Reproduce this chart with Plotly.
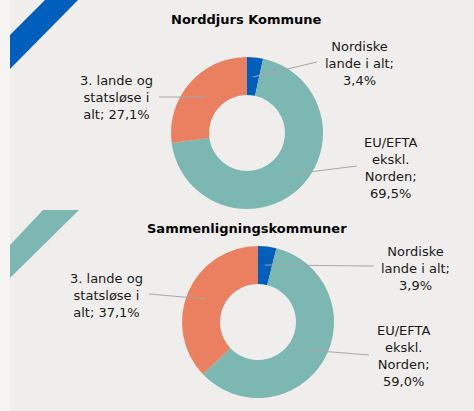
import plotly.graph_objects as go

W, H = 474, 411

categories = ["Nordiske lande i alt", "EU/EFTA ekskl. Norden", "3. lande og statsløse i alt"]
norddjurs_values = [3.4, 69.5, 27.1]
sammen_values = [3.9, 59.0, 37.1]
titles = ["Norddjurs Kommune", "Sammenligningskommuner"]
colors = ["#005EBD", "#7DB7B1", "#EA805F"]

label_lines = {
    "Nordiske lande i alt": ["Nordiske", "lande i alt;"],
    "EU/EFTA ekskl. Norden": ["EU/EFTA", "ekskl.", "Norden;"],
    "3. lande og statsløse i alt": ["3. lande og", "statsløse i", "alt;"],
}

def fmt(v):
    return f"{v:.1f}".replace(".", ",") + "%"

def px(x):
    return x / W

def py(y):
    return 1 - y / H

fig = go.Figure()

# donut geometry (pixels): center x, center y, radius
donuts = [(247, 133, 76, norddjurs_values), (258, 322, 76, sammen_values)]
for cx, cy, r, vals in donuts:
    fig.add_trace(go.Pie(
        labels=categories, values=vals, hole=0.5, sort=False,
        direction="clockwise", rotation=0,
        marker=dict(colors=colors, line=dict(width=0)),
        textinfo="none", showlegend=False, hoverinfo="label+percent",
        domain=dict(x=[px(cx - r), px(cx + r)], y=[py(cy + r), py(cy - r)]),
    ))

shapes = []
# background panel
shapes.append(dict(type="rect", xref="paper", yref="paper", x0=px(10), x1=1, y0=0, y1=1,
                   fillcolor="#EFEEEC", line=dict(width=0), layer="below"))
# decorative stripes
def poly(pts, color):
    d = "M " + " L ".join(f"{px(x)},{py(y)}" for x, y in pts) + " Z"
    return dict(type="path", xref="paper", yref="paper", path=d, fillcolor=color,
                line=dict(width=0), layer="below")
shapes.append(poly([(45, 0), (78, 0), (10, 69), (10, 35)], "#005EBD"))
shapes.append(poly([(43, 210), (79, 210), (10, 278), (10, 245)], "#7DB7B1"))

# leader lines (pixel endpoints)
leaders = [
    ((253, 77), (317, 62)),
    ((285, 175), (357, 166)),
    ((159, 97), (204, 97)),
    ((265, 265), (374, 266)),
    ((307, 350), (369, 355)),
    ((149, 294), (206, 299)),
]
for (x0, y0), (x1, y1) in leaders:
    shapes.append(dict(type="line", xref="paper", yref="paper", x0=px(x0), y0=py(y0),
                       x1=px(x1), y1=py(y1), line=dict(color="#A6A6A6", width=1)))

annotations = []
FONT = "DejaVu Sans, Verdana, sans-serif"
# titles
for t, (x, y) in zip(titles, [(247, 19), (247, 228)]):
    annotations.append(dict(text=f"<b>{t}</b>", x=px(x), y=py(y), xref="paper", yref="paper",
                            showarrow=False, xanchor="center", yanchor="middle",
                            font=dict(family=FONT, size=13, color="#000000")))

# data labels: (center x, center y of text block)
label_pos = [
    [(359, 63), (391, 168), (116, 98)],
    [(415, 268), (404, 356), (106, 295)],
]
for vals, positions in zip([norddjurs_values, sammen_values], label_pos):
    for cat, v, (x, y) in zip(categories, vals, positions):
        lines = label_lines[cat]
        if cat.startswith("3."):
            txt = "<br>".join(lines[:-1] + [lines[-1] + " " + fmt(v)])
        else:
            txt = "<br>".join(lines + [fmt(v)])
        annotations.append(dict(text=txt, x=px(x), y=py(y), xref="paper", yref="paper",
                                showarrow=False, xanchor="center", yanchor="middle",
                                align="center",
                                font=dict(family=FONT, size=13, color="#1A1A1A")))

fig.update_layout(
    width=W, height=H, margin=dict(l=0, r=0, t=0, b=0),
    paper_bgcolor="#F6F5F3", plot_bgcolor="#F6F5F3",
    shapes=shapes, annotations=annotations,
)

fig.write_html("out.html", config={"displayModeBar": False},
               post_script="document.body.style.margin='0';document.body.style.padding='0';")
